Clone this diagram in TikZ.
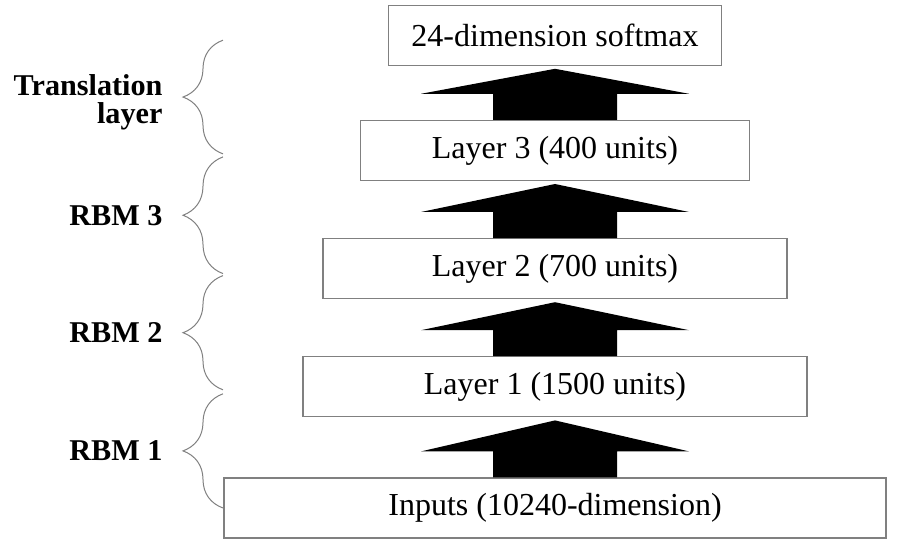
\documentclass[tikz,border=0pt]{standalone}
\usepackage{fontspec}
\setmainfont{Liberation Serif}
\usetikzlibrary{positioning,calc,decorations.pathreplacing}
\definecolor{ink}{RGB}{0,0,0}
\definecolor{boxgray}{RGB}{128,128,128}
\tikzset{
  layerbox/.style={draw=boxgray, fill=white, minimum height=30pt, inner sep=0pt,
    font=\fontsize{16}{19}\selectfont, text=ink, line width=0.6pt},
  uparrow/.style={fill=ink},
  rbmbrace/.style={draw=boxgray, line width=0.5pt, decorate,
    decoration={brace, amplitude=20pt}},
  rbmlabel/.style={font=\fontsize{15.1}{14}\selectfont\bfseries, align=right,
    inner sep=0pt, midway, left=30pt, text=ink},
}

\begin{document}
\begin{tikzpicture}[x=1pt,y=1pt]
  \useasboundingbox (0,0) rectangle (448.5,276);
  \node[layerbox, minimum width=331pt] (inp) at (277.5,22) {Inputs (10240-dimension)};
  \node[layerbox, minimum width=252pt, above=30pt of inp] (l1) {Layer 1 (1500 units)};
  \node[layerbox, minimum width=232pt, above=28.5pt of l1] (l2) {Layer 2 (700 units)};
  \node[layerbox, minimum width=194.5pt, above=28.5pt of l2] (l3) {Layer 3 (400 units)};
  \node[layerbox, minimum width=166.5pt, above=27pt of l3] (sm) {24-dimension softmax};
  \foreach \lo/\hi in {inp/l1,l1/l2,l2/l3,l3/sm}
    \fill[uparrow] ($(\lo.north)+(-31,0)$) -- ++(0,13) -- ++(-36,0)
      -- ($(\hi.south)+(0,-1.5)$) -- ($(\lo.north)+(67,13)$) -- ++(-36,0)
      -- ++(0,-13) -- cycle;
  \coordinate (brx) at (111.5,0);
  \draw[rbmbrace] (inp -| brx) -- node[rbmlabel] {RBM 1} ($(l1 -| brx)+(0,-3.5)$);
  \draw[rbmbrace] ($(l1 -| brx)+(0,-1.5)$) -- node[rbmlabel] {RBM 2} ($(l2 -| brx)+(0,-3.5)$);
  \draw[rbmbrace] ($(l2 -| brx)+(0,-2.5)$) -- node[rbmlabel] {RBM 3} ($(l3 -| brx)+(0,-3.25)$);
  \draw[rbmbrace] ($(l3 -| brx)+(0,-1.75)$) -- node[rbmlabel, yshift=-2.5pt] {Translation\\layer} ($(sm -| brx)+(0,-2.5)$);
\end{tikzpicture}
\end{document}
